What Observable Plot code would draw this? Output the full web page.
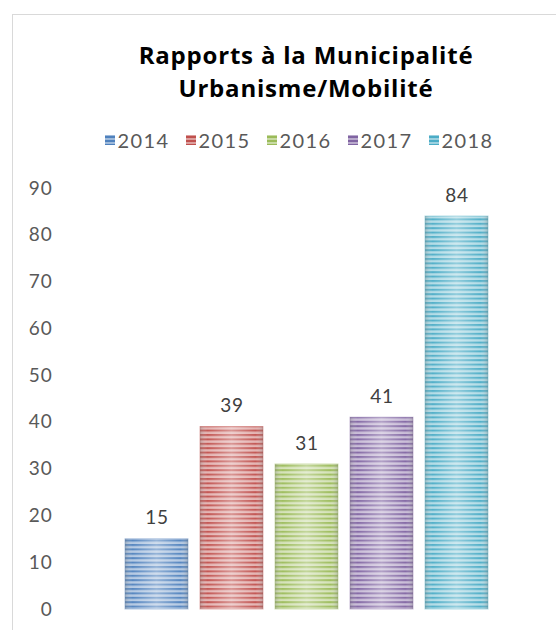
<!DOCTYPE html>
<html>
<head>
<meta charset="utf-8">
<script src="https://cdn.jsdelivr.net/npm/d3@7"></script>
<script src="https://cdn.jsdelivr.net/npm/@observablehq/plot@0.6"></script>
<style>
  html, body { margin: 0; padding: 0; background: #fff; }
  #wrap { position: relative; width: 556px; height: 630px; overflow: hidden; background: #fff; }
  #frame { position: absolute; left: 12px; top: 14px; width: 600px; height: 700px;
           border-left: 1.5px solid #d9d9d9; border-top: 1.5px solid #d9d9d9; }
  #title { position: absolute; left: 12px; width: 588px; top: 38px; text-align: center;
           font-family: "Open Sans", sans-serif; font-weight: 700; font-size: 24px; letter-spacing: 0.8px;
           line-height: 33px; color: #000; }
  #legend { position: absolute; left: 0; width: 598px; top: 128px; display: flex; justify-content: center;
            font-family: "Lato", sans-serif; font-size: 20px; letter-spacing: 1.4px; color: #595959; }
  .item { display: flex; align-items: center; margin: 0 8px 0 8px; }
  .sw { width: 10px; height: 10px; margin-right: 3px; }
  #chart { position: absolute; left: 0; top: 170px; }
</style>
</head>
<body>
<div id="wrap">
  <div id="frame"></div>
  <div id="title">Rapports à la Municipalité<br>Urbanisme/Mobilité</div>
  <div id="legend"></div>
  <div id="chart"></div>
</div>
<script>
const years = ["2014", "2015", "2016", "2017", "2018"];
const values = [15, 39, 31, 41, 84];
const colors = ["#4F81BD", "#C0504D", "#9BBB59", "#8064A2", "#4BACC6"];
const yTicks = [0, 10, 20, 30, 40, 50, 60, 70, 80, 90];

const data = years.map((y, i) => ({year: y, value: values[i], pat: `url(#pat${i})`, color: colors[i]}));

// legend
const legend = document.getElementById("legend");
years.forEach((y, i) => {
  const it = document.createElement("div");
  it.className = "item";
  it.innerHTML = `<svg class="sw" width="10" height="10"><rect width="10" height="10" fill="${colors[i]}" opacity="0.55"/>
    <rect y="1" width="10" height="2" fill="${colors[i]}"/><rect y="5" width="10" height="2" fill="${colors[i]}"/><rect y="9" width="10" height="1" fill="${colors[i]}"/></svg><span>${y}</span>`;
  legend.appendChild(it);
});

const fontLabel = "Lato, sans-serif";

const chart = Plot.plot({
  width: 556,
  height: 460,
  marginTop: 18,
  marginBottom: 21,
  marginLeft: 85,
  marginRight: 29,
  style: {fontFamily: fontLabel, fontSize: "19px", color: "#595959", background: "transparent", overflow: "visible", letterSpacing: "0.8px"},
  x: {domain: years, paddingInner: 0.162, paddingOuter: 0.5, axis: null},
  y: {domain: [0, 90], ticks: yTicks, tickSize: 0, tickPadding: 33, label: null, grid: false},
  color: {type: "identity"},
  marks: [
    Plot.barY(data, {x: "year", y: "value", fill: "pat", stroke: "color", strokeOpacity: 0.45, strokeWidth: 1}),
    Plot.barY(data, {x: "year", y: "value", fill: "url(#shine)"}),
    Plot.text(data, {x: "year", y: "value", text: d => String(d.value), dy: -21, fill: "#404040", fontSize: 19}),
    Plot.axisY({ticks: yTicks, tickSize: 0, tickPadding: 33, label: null, fill: "#595959", fontSize: 19})
  ]
});

const svg = d3.select(chart);
const defs = svg.insert("defs", ":first-child");
colors.forEach((c, i) => {
  const light = d3.interpolateRgb(c, "#ffffff")(0.55);
  const p = defs.append("pattern").attr("id", `pat${i}`).attr("patternUnits", "userSpaceOnUse")
    .attr("width", 8).attr("height", 4.4);
  p.append("rect").attr("width", 8).attr("height", 4.4).attr("fill", light);
  p.append("rect").attr("y", 0).attr("width", 8).attr("height", 2).attr("fill", c);
});
const g = defs.append("linearGradient").attr("id", "shine").attr("x1", 0).attr("x2", 1).attr("y1", 0).attr("y2", 0);
g.append("stop").attr("offset", "0").attr("stop-color", "#7f7f7f").attr("stop-opacity", 0.35);
g.append("stop").attr("offset", "0.12").attr("stop-color", "#ffffff").attr("stop-opacity", 0.05);
g.append("stop").attr("offset", "0.5").attr("stop-color", "#ffffff").attr("stop-opacity", 0.4);
g.append("stop").attr("offset", "0.88").attr("stop-color", "#ffffff").attr("stop-opacity", 0.05);
g.append("stop").attr("offset", "1").attr("stop-color", "#7f7f7f").attr("stop-opacity", 0.35);

document.getElementById("chart").appendChild(chart);
</script>
</body>
</html>
